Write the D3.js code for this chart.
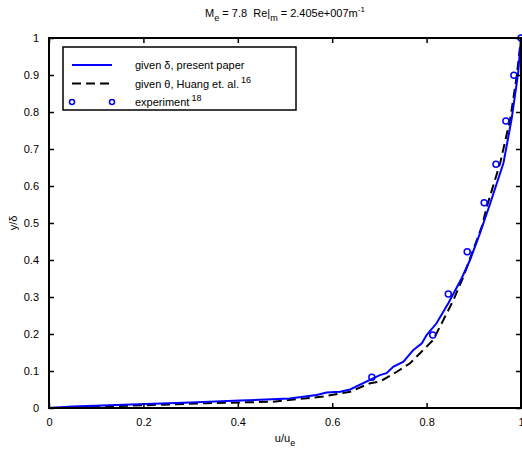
<!DOCTYPE html>
<html lang="en">
<head>
  <meta charset="UTF-8" />
  <script src="https://d3js.org/d3.v7.min.js"></script>
  <title>Velocity profile</title>
  <style>
    body { margin: 0; background: #fff; }
    text { font-family: "Liberation Sans", Arial, sans-serif; }
  </style>
</head>
<body>
<script type="text/javascript">
// u/ue vs y/delta
var presentU = [0, 0.05, 0.19, 0.3, 0.405, 0.51, 0.567, 0.588, 0.617, 0.638, 0.68, 0.701, 0.715, 0.73, 0.751, 0.772, 0.79, 0.80, 0.821, 0.846, 0.874, 0.892, 0.913, 0.934, 0.963, 0.98, 0.994, 1.0];
var presentY = [0, 0.004, 0.01, 0.015, 0.02, 0.026, 0.035, 0.042, 0.044, 0.05, 0.076, 0.089, 0.094, 0.112, 0.125, 0.157, 0.175, 0.197, 0.229, 0.283, 0.35, 0.4, 0.472, 0.55, 0.663, 0.78, 0.906, 1.0];

var huangU = [0, 0.12, 0.334, 0.475, 0.581, 0.638, 0.68, 0.701, 0.737, 0.765, 0.786, 0.814, 0.857, 0.878, 0.896, 0.917, 0.929, 0.956, 0.977, 0.991, 1.0];
var huangY = [0, 0.004, 0.013, 0.017, 0.031, 0.044, 0.067, 0.071, 0.098, 0.121, 0.148, 0.184, 0.292, 0.355, 0.418, 0.49, 0.55, 0.663, 0.78, 0.897, 1.0];

var expU = [0.684, 0.813, 0.846, 0.886, 0.922, 0.947, 0.968, 0.985, 1.0];
var expY = [0.083, 0.197, 0.308, 0.422, 0.555, 0.659, 0.776, 0.899, 1.0];

var xTicks = [0, 0.2, 0.4, 0.6, 0.8, 1];
var yTicks = [0, 0.1, 0.2, 0.3, 0.4, 0.5, 0.6, 0.7, 0.8, 0.9, 1];

var W = 522, H = 454;
var margin = {top: 38, right: 1, bottom: 46, left: 49},
    width = W - margin.left - margin.right,
    height = H - margin.top - margin.bottom;

var svg = d3.select("body").append("svg").attr("width", W).attr("height", H);
var g = svg.append("g").attr("transform", "translate(" + margin.left + "," + margin.top + ")");

var x = d3.scaleLinear().domain([0, 1]).range([0, width]);
var y = d3.scaleLinear().domain([0, 1]).range([height, 0]);

function zip(a, b) { return a.map(function(d, i){ return [d, b[i]]; }); }

var line = d3.line().x(function(d){ return x(d[0]); }).y(function(d){ return y(d[1]); });

g.append("path").datum(zip(huangU, huangY)).attr("d", line)
  .attr("fill", "none").attr("stroke", "#000").attr("stroke-width", 2)
  .attr("stroke-dasharray", "9,5");
g.append("path").datum(zip(presentU, presentY)).attr("d", line)
  .attr("fill", "none").attr("stroke", "#0000ff").attr("stroke-width", 2);

g.selectAll(".exp").data(zip(expU, expY)).enter().append("circle")
  .attr("cx", function(d){ return x(d[0]); })
  .attr("cy", function(d){ return y(d[1]); })
  .attr("r", 3).attr("fill", "none").attr("stroke", "#0000ff").attr("stroke-width", 1.5);

// axes with inward ticks on all four sides
function styleAxis(sel) {
  sel.select(".domain").remove();
  sel.selectAll(".tick line").attr("stroke", "#000").attr("stroke-width", 1.5);
  sel.selectAll("text").attr("font-size", 11).attr("fill", "#000")
    .attr("font-family", "Liberation Sans, Arial, sans-serif");
}
var fmt = function(d){ return d3.format("")(+d.toFixed(1)); };

g.append("g").attr("transform", "translate(0," + height + ")")
  .call(d3.axisBottom(x).tickValues(xTicks).tickSizeInner(-5).tickSizeOuter(0).tickPadding(10).tickFormat(fmt))
  .call(styleAxis);
g.append("g")
  .call(d3.axisTop(x).tickValues(xTicks).tickSizeInner(-5).tickSizeOuter(0).tickFormat(""))
  .call(styleAxis);
g.append("g")
  .call(d3.axisLeft(y).tickValues(yTicks).tickSizeInner(-5).tickSizeOuter(0).tickPadding(10).tickFormat(fmt))
  .call(styleAxis);
g.append("g").attr("transform", "translate(" + width + ",0)")
  .call(d3.axisRight(y).tickValues(yTicks).tickSizeInner(-5).tickSizeOuter(0).tickFormat(""))
  .call(styleAxis);

g.append("rect").attr("width", width).attr("height", height)
  .attr("fill", "none").attr("stroke", "#000").attr("stroke-width", 2);

// legend
var lg = g.append("g").attr("transform", "translate(14,9)");
lg.append("rect").attr("width", 233).attr("height", 63)
  .attr("fill", "#fff").attr("stroke", "#000").attr("stroke-width", 1.5);
var entries = [
  {label: "given \u03b4, present paper", sup: "", kind: "solid"},
  {label: "given \u03b8, Huang et. al.", sup: "16", kind: "dash"},
  {label: "experiment", sup: "18", kind: "mark"}
];
entries.forEach(function(e, i) {
  var yy = 18 + i * 18.5;
  if (e.kind === "solid") {
    lg.append("line").attr("x1", 9).attr("x2", 49).attr("y1", yy).attr("y2", yy)
      .attr("stroke", "#0000ff").attr("stroke-width", 2);
  } else if (e.kind === "dash") {
    lg.append("line").attr("x1", 9).attr("x2", 49).attr("y1", yy).attr("y2", yy)
      .attr("stroke", "#000").attr("stroke-width", 2).attr("stroke-dasharray", "9,5");
  } else {
    [9, 49].forEach(function(cx) {
      lg.append("circle").attr("cx", cx).attr("cy", yy).attr("r", 2.5)
        .attr("fill", "none").attr("stroke", "#0000ff").attr("stroke-width", 1.5);
    });
  }
  var t = lg.append("text").attr("x", 72).attr("y", yy + 4).attr("font-size", 11).text(e.label);
  if (e.sup) t.append("tspan").attr("dx", 2).attr("dy", -5).attr("font-size", 9).text(e.sup);
});

// title
var title = svg.append("text").attr("x", margin.left + width / 2).attr("y", 17)
  .attr("text-anchor", "middle").attr("font-size", 11);
title.append("tspan").text("M");
title.append("tspan").attr("dy", 4).attr("font-size", 9).text("e");
title.append("tspan").attr("dy", -4).text(" = 7.8\u00a0\u00a0Re|");
title.append("tspan").attr("dy", 4).attr("font-size", 9).text("m");
title.append("tspan").attr("dy", -4).text(" = 2.405e+007m");
title.append("tspan").attr("dy", -5).attr("font-size", 8).text("-1");

// axis labels
var xl = svg.append("text").attr("x", margin.left + width / 2).attr("y", 442)
  .attr("text-anchor", "middle").attr("font-size", 11);
xl.append("tspan").text("u/u");
xl.append("tspan").attr("dy", 4).attr("font-size", 9).text("e");

svg.append("text").attr("transform", "translate(17," + (margin.top + height / 2) + ") rotate(-90)")
  .attr("text-anchor", "middle").attr("font-size", 11).text("y/\u03b4");
</script>
</body>
</html>
